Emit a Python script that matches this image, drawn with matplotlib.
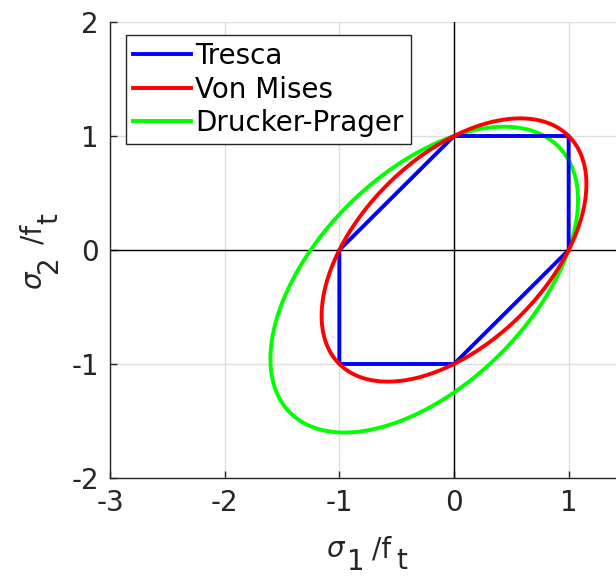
import numpy as np
import matplotlib
matplotlib.use("Agg")
import matplotlib.pyplot as plt

plt.rcParams['font.family'] = ['DejaVu Sans']
plt.rcParams['mathtext.fontset'] = 'dejavusans'
plt.rcParams['axes.unicode_minus'] = False

# Tresca hexagon vertices (sigma1/ft, sigma2/ft)
tresca_s1 = [1, 1, 0, -1, -1, 0, 1]
tresca_s2 = [0, 1, 1, 0, -1, -1, 0]
# Von Mises: uniaxial strength ratio
vm_strength = 1.0
# Drucker-Prager: compressive / tensile strength ratio
dp_fc = 1.25

xticks = [-3, -2, -1, 0, 1]
yticks = [-2, -1, 0, 1, 2]

theta = np.linspace(0, 2 * np.pi, 721)
c, s = np.cos(theta), np.sin(theta)
q = c**2 - c * s + s**2
r_vm = vm_strength / np.sqrt(q)
alpha = (dp_fc - 1) / (np.sqrt(3) * (1 + dp_fc))
k = 2 * dp_fc / (np.sqrt(3) * (1 + dp_fc))
r_dp = k / (np.sqrt(q / 3) + alpha * (c + s))

W, H = 616, 576
fig = plt.figure(figsize=(W / 100, H / 100), dpi=100)
ax = fig.add_axes([110 / W, 98 / H, 516 / W, 456 / H])

ax.axhline(0, color='black', lw=1.0, zorder=1)
ax.axvline(0, color='black', lw=1.0, zorder=1)

ax.plot(tresca_s1, tresca_s2, color='#0000ff', lw=2.8, label='Tresca', zorder=3)
ax.plot(r_vm * c, r_vm * s, color='#ff0000', lw=2.8, label='Von Mises', zorder=3)
ax.plot(r_dp * c, r_dp * s, color='#00ff00', lw=2.8, label='Drucker-Prager', zorder=2)

ax.set_xlim(-3, 1.5)
ax.set_ylim(-2, 2)
ax.set_xticks(xticks)
ax.set_yticks(yticks)
ax.grid(True, color='#dfdfdf', lw=1.0, zorder=0)
ax.set_axisbelow(True)
for side in ['top', 'right']:
    ax.spines[side].set_visible(False)
for side in ['left', 'bottom']:
    ax.spines[side].set_color('#262626')
    ax.spines[side].set_linewidth(1.0)
ax.tick_params(direction='in', length=5, width=1.0, color='#262626',
               labelsize=20, labelcolor='#262626', pad=8)

TC = '#262626'
FS = 20


def ptext(x, y, s, **kw):
    fig.text(x / W, 1 - y / H, s, fontsize=FS, color=TC, va='baseline',
             ha='left', **kw)


# x label: sigma_1 /f_t (MATLAB-style large subscripts)
ptext(326, 557, r'$\sigma$')
ptext(346, 570, r'$\mathdefault{1}$')
ptext(372, 557, '/f')
ptext(396, 569, r'$\mathdefault{t}$')

# y label: sigma_2 /f_t, rotated
rk = dict(rotation=90, rotation_mode='anchor')
ptext(42, 290, r'$\sigma$', **rk)
ptext(57, 273, '2', **rk)
ptext(41, 244, '/f', **rk)
ptext(57, 224, 't', **rk)

leg = ax.legend(loc='upper left', bbox_to_anchor=(16 / 516, 1 - 13 / 456),
                fontsize=20, frameon=True, fancybox=False, handlelength=2.1,
                handletextpad=0.15, borderpad=0.25, labelspacing=0.2,
                borderaxespad=0)
leg.get_frame().set_edgecolor('#262626')
leg.get_frame().set_linewidth(1.0)
leg.get_frame().set_alpha(1)

fig.savefig('out.png', dpi=100)
